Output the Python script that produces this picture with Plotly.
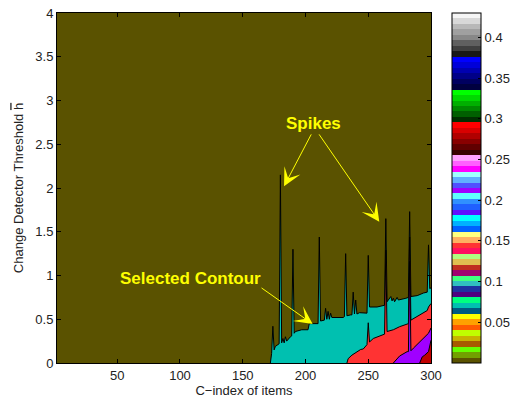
import plotly.graph_objects as go

# ---------------- data ----------------
# Upper edge (threshold h) of each filled contour level, versus C-index of items
cyan_x = [172, 173, 174, 175, 176, 179, 180, 181, 182, 183, 184, 185, 188, 189, 190, 191,
          192, 197, 202, 203, 210, 211, 212, 215, 216, 217, 218, 219, 220, 221, 230, 231,
          232, 233, 236, 237, 238, 239, 240, 241, 243, 249, 250, 251, 257, 263, 264, 265,
          268, 269, 270, 271, 273, 274, 280, 282, 283, 284, 289, 292, 294, 297, 298, 299, 300]
cyan_h = [0.0, 0.11, 0.42, 0.15, 0.19, 0.22, 2.15, 0.23, 0.28, 0.23, 0.30, 0.25, 0.30, 0.31, 1.30, 0.34,
          0.36, 0.38, 0.38, 0.45, 0.45, 1.44, 0.48, 0.49, 0.625, 0.50, 0.59, 0.50, 0.57, 0.52, 0.52, 0.53,
          1.25, 0.54, 0.55, 0.55, 0.81, 0.56, 0.72, 0.56, 0.575, 0.57, 1.23, 0.64, 0.64, 0.66, 1.65, 0.70,
          0.76, 0.71, 0.74, 0.70, 0.75, 0.72, 0.74, 0.75, 1.73, 0.76, 0.77, 0.79, 0.80, 0.81, 1.35, 0.85, 0.86]

red_x = [233, 234, 237, 241, 244, 246, 249, 250, 251, 254, 258, 263, 264, 265, 270, 275,
         282, 283, 284, 289, 294, 297, 298, 300]
red_h = [0.0, 0.05, 0.09, 0.13, 0.155, 0.16, 0.21, 0.46, 0.24, 0.28, 0.30, 0.33, 1.29, 0.36, 0.38, 0.415,
         0.45, 1.44, 0.49, 0.53, 0.57, 0.60, 0.64, 0.68]

purple_x = [270, 273, 275, 281, 282, 283, 284, 286, 290, 294, 298, 300]
purple_h = [0.0, 0.05, 0.08, 0.13, 0.13, 1.16, 0.14, 0.17, 0.225, 0.28, 0.34, 0.40]

darkred_x = [291, 293, 295, 298, 300]
darkred_h = [0.0, 0.07, 0.09, 0.13, 0.26]

# colour map (bottom -> top) of the colour bar
cmap = ["#5a5200", "#72a000", "#66ff00", "#a85a00", "#c8b400", "#c0ff00", "#ff5a00", "#ffa000",
        "#ffff00", "#005a80", "#00c0b0", "#00ff80", "#500080", "#1e32a0", "#30c0c0", "#40ff80",
        "#a00070", "#c03020", "#e0c050", "#b0ff80", "#ff1060", "#ff3333", "#ffb060", "#ffff80",
        "#0060ff", "#00b0ff", "#00ffff", "#6010ff", "#2060ff", "#3090ff", "#60ffff", "#a000ff",
        "#5050ff", "#60b0ff", "#a0ffff", "#ff00ff", "#ff60ff", "#ffa0ff", "#380000", "#600000",
        "#880000", "#b00000", "#d80000", "#ff0000", "#003000", "#006000", "#008800", "#00b000",
        "#00d800", "#00ff00", "#000040", "#000060", "#000088", "#0000b0", "#0000d8", "#0000ff",
        "#181818", "#404040", "#606060", "#888888", "#a0a0a0", "#b8b8b8", "#d8d8d8", "#f5f5f5"]
cbar_min, cbar_max = 0.0, 0.43
cbar_ticks = [0.05, 0.1, 0.15, 0.2, 0.25, 0.3, 0.35, 0.4]

x_ticks = [50, 100, 150, 200, 250, 300]
y_ticks = [0, 0.5, 1, 1.5, 2, 2.5, 3, 3.5, 4]
x_range = [2, 300]
y_range = [0, 4]

level_colors = {"base": cmap[0], "cyan": cmap[10], "red": cmap[21],
                "purple": cmap[31], "darkred": "#c00000"}

# annotation texts: (text, x, y)
labels = [("Spikes", 206, 2.74), ("Selected Contour", 108.5, 0.97)]
# arrows: (tip_x, tip_y, tail_x, tail_y)
arrows = [(182.9, 2.02, 205.2, 2.63), (258.8, 1.615, 210.0, 2.63), (205.7, 0.446, 163.8, 0.87)]

FONT = "Liberation Sans, Arial, Helvetica, sans-serif"

# ---------------- figure ----------------
fig = go.Figure()
for xs, hs, key in [(cyan_x, cyan_h, "cyan"), (red_x, red_h, "red"),
                    (purple_x, purple_h, "purple"), (darkred_x, darkred_h, "darkred")]:
    fig.add_trace(go.Scatter(x=xs, y=hs, mode="lines", fill="tozeroy",
                             fillcolor=level_colors[key],
                             line=dict(color="black", width=1),
                             hoverinfo="skip", showlegend=False))

# colour bar carrier
n = len(cmap)
cscale = []
for i, c in enumerate(cmap):
    cscale.append([i / n, c])
    cscale.append([(i + 1) / n, c])
fig.add_trace(go.Scatter(
    x=[None], y=[None], mode="markers", showlegend=False, hoverinfo="skip",
    marker=dict(color=[cbar_min], colorscale=cscale, cmin=cbar_min, cmax=cbar_max,
                showscale=True,
                colorbar=dict(x=1.056, xanchor="left", y=0.5, yanchor="middle",
                              len=1.0, lenmode="fraction", thickness=29, thicknessmode="pixels",
                              xpad=0, ypad=0, outlinecolor="black", outlinewidth=1,
                              tickvals=cbar_ticks, ticks="inside", ticklen=3,
                              tickcolor="black",
                              tickfont=dict(family=FONT, size=13, color="#222")))))

for text, x, y in labels:
    fig.add_annotation(x=x, y=y, xref="x", yref="y", text=text, showarrow=False,
                       font=dict(family=FONT, size=17, color="#ffff00", weight="bold"))
for tx, ty, ax, ay in arrows:
    fig.add_annotation(x=tx, y=ty, xref="x", yref="y", ax=ax, ay=ay, axref="x", ayref="y",
                       text="", showarrow=True, arrowhead=3, arrowsize=3, arrowwidth=1,
                       arrowcolor="#ffff00", standoff=0)

axis_common = dict(showline=True, linecolor="black", linewidth=1, mirror="ticks",
                   ticks="inside", ticklen=4, tickcolor="black", showgrid=False,
                   zeroline=False, automargin=False,
                   tickfont=dict(family=FONT, size=13, color="#222"))
fig.update_xaxes(range=x_range, tickvals=x_ticks, **axis_common,
                 title=dict(text="C\u2212index of items", standoff=2,
                            font=dict(family=FONT, size=13, color="#222")))
fig.update_yaxes(range=y_range, tickvals=y_ticks, **axis_common,
                 title=dict(text="Change Detector Threshold <span style='text-decoration:overline'>h</span>",
                            standoff=8,
                            font=dict(family=FONT, size=13, color="#222")))

fig.update_layout(width=512, height=401,
                  margin=dict(l=57, r=81, t=13, b=38, autoexpand=False),
                  paper_bgcolor="white", plot_bgcolor=level_colors["base"])

fig.write_html("out.html", config={"displayModeBar": False},
               post_script="document.body.style.margin='0';document.body.style.overflow='hidden';")
